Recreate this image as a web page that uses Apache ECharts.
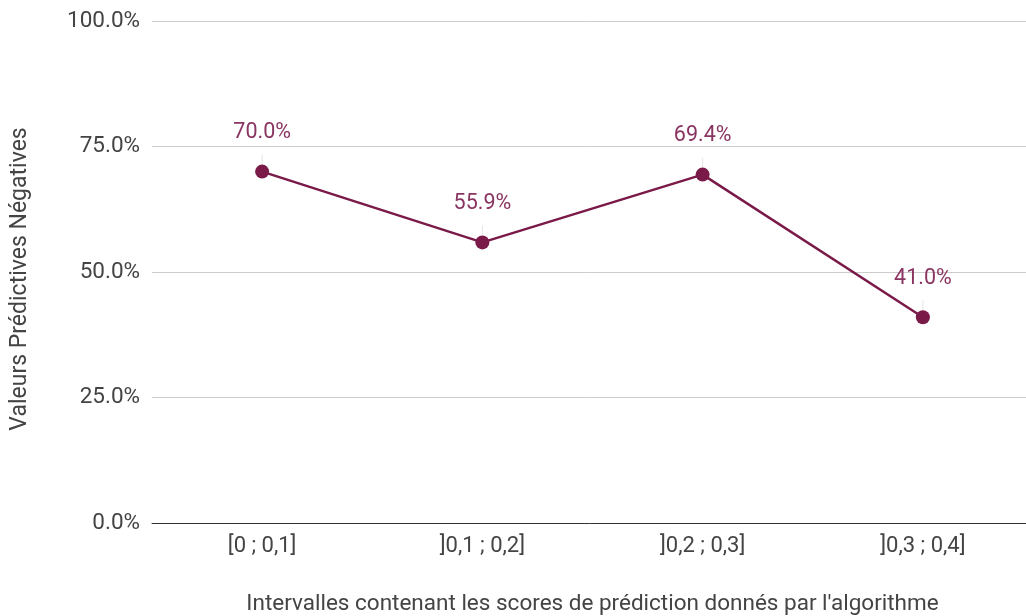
<!DOCTYPE html>
<html><head><meta charset="utf-8">
<script src="https://cdn.jsdelivr.net/npm/echarts@6/dist/echarts.min.js"></script>
<style>html,body{margin:0;padding:0;background:#fff}#c{width:1026px;height:616px}</style>
</head><body><div id="c"></div>
<script>
const categories = ['[0 ; 0,1]', ']0,1 ; 0,2]', ']0,2 ; 0,3]', ']0,3 ; 0,4]'];
const values = [70.0, 55.9, 69.4, 41.0];
const yTicks = [0, 25, 50, 75, 100];
const xTitle = "Intervalles contenant les scores de prédiction donnés par l'algorithme";
const yTitle = 'Valeurs Prédictives Négatives';

const chart = echarts.init(document.getElementById('c'));
chart.setOption({
  animation: false,
  textStyle: { fontFamily: 'Roboto' },
  grid: { left: 152, right: -7, top: 21, bottom: 93, containLabel: false, outerBoundsMode: 'none' },
  xAxis: {
    type: 'category', data: categories, boundaryGap: true,
    axisLine: { lineStyle: { color: '#333', width: 1 } },
    axisTick: { show: false },
    axisLabel: { color: '#444', fontSize: 22, margin: 12 },
    name: xTitle, nameLocation: 'middle', nameGap: 70,
    nameTextStyle: { color: '#444', fontSize: 22.5 }
  },
  yAxis: {
    type: 'value', min: yTicks[0], max: yTicks[yTicks.length - 1], interval: yTicks[1] - yTicks[0],
    axisLine: { show: false }, axisTick: { show: false },
    axisLabel: { color: '#444', fontSize: 22.5, margin: 12, formatter: v => v.toFixed(1) + '%' },
    splitLine: { lineStyle: { color: '#cccccc', width: 1 } },
    name: yTitle, nameLocation: 'middle', nameGap: 120, nameRotate: 90,
    nameTextStyle: { color: '#444', fontSize: 23, padding: [0, 14, 0, 0] }
  },
  series: [{
    type: 'line', data: values,
    symbol: 'circle', symbolSize: 14,
    lineStyle: { color: '#7a1a48', width: 2.5 },
    itemStyle: { color: '#7a1a48' },
    label: {
      show: true, position: 'top', distance: 21,
      color: '#8a3561', fontSize: 21.5,
      formatter: p => p.value.toFixed(1) + '%'
    },
    labelLine: { show: true, lineStyle: { color: '#e6e6e6', width: 1 } }
  }]
});
</script></body></html>
